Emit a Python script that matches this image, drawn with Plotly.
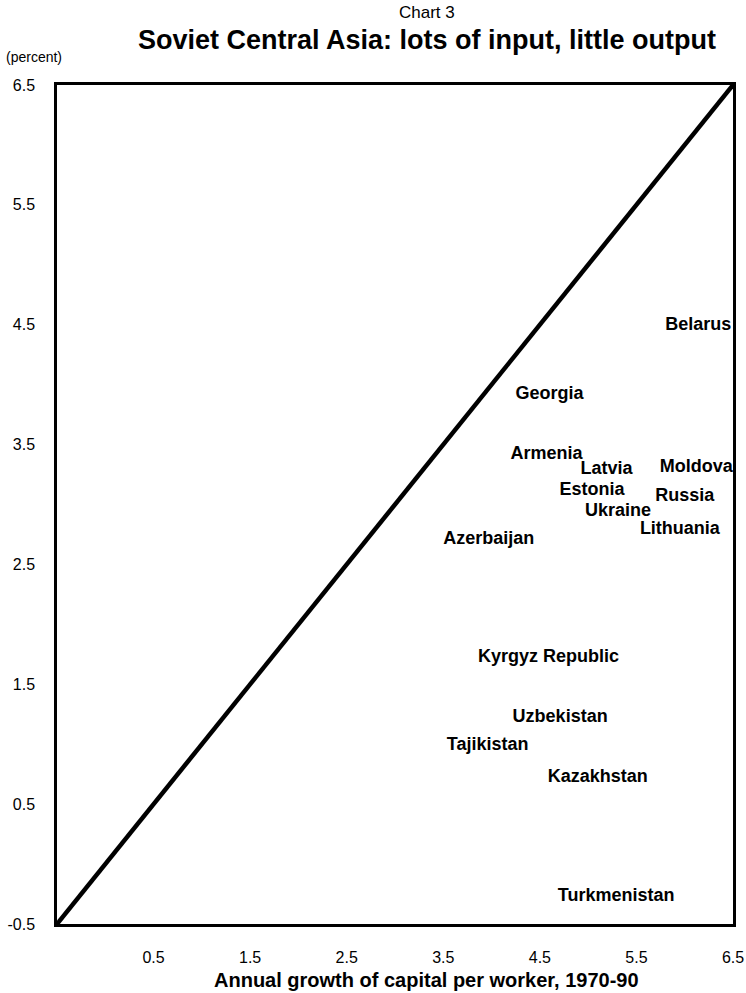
import plotly.graph_objects as go

# growth of capital per worker (x) vs growth of output per worker (y), 1970-90
countries = ["Belarus", "Georgia", "Armenia", "Latvia", "Moldova", "Estonia", "Russia",
             "Ukraine", "Lithuania", "Azerbaijan", "Kyrgyz Republic", "Uzbekistan",
             "Tajikistan", "Kazakhstan", "Turkmenistan"]
capital = [6.14, 4.60, 4.57, 5.19, 6.12, 5.04, 6.00, 5.31, 5.95, 3.97, 4.59, 4.71, 3.96, 5.10, 5.29]
output = [4.49, 3.92, 3.42, 3.29, 3.31, 3.12, 3.07, 2.94, 2.79, 2.71, 1.72, 1.22, 0.99, 0.72, -0.27]

diag = [-0.5, 6.5]
ticks = [-0.5, 0.5, 1.5, 2.5, 3.5, 4.5, 5.5, 6.5]

fnt = "Liberation Sans, Arial, sans-serif"

fig = go.Figure()
fig.add_trace(go.Scatter(x=diag, y=diag, mode="lines",
                         line=dict(color="black", width=4.5), hoverinfo="skip"))
fig.add_trace(go.Scatter(x=capital, y=output, mode="text", text=countries,
                         textposition="middle center",
                         textfont=dict(family=fnt, size=18, color="black", weight="bold")))

fig.update_layout(
    width=746, height=993,
    margin=dict(l=57, r=13, t=85, b=69, autoexpand=False),
    paper_bgcolor="white", plot_bgcolor="white",
    showlegend=False,
    font=dict(family=fnt, size=16, color="black"),
    annotations=[
        dict(text="Chart 3", xref="paper", yref="paper", x=0.547, y=1, yshift=73,
             yanchor="middle", showarrow=False, font=dict(size=17)),
        dict(text="<b>Soviet Central Asia: lots of input, little output</b>",
             xref="paper", yref="paper", x=0.547, y=1, yshift=45, yanchor="middle",
             showarrow=False, font=dict(size=27)),
        dict(text="(percent)", xref="paper", yref="paper", x=0, xshift=-53, xanchor="left",
             y=1, yshift=28, yanchor="middle", showarrow=False, font=dict(size=14)),
        dict(text="<b>Annual growth of capital per worker, 1970-90</b>",
             xref="paper", yref="paper", x=0.547, y=0, yshift=-56, yanchor="middle",
             showarrow=False, font=dict(size=20)),
    ],
)

fig.update_xaxes(range=[-0.5, 6.5], tickvals=ticks[1:], ticktext=[str(t) for t in ticks[1:]],
                 showgrid=False, zeroline=False, showline=True, mirror=True,
                 linecolor="black", linewidth=2.5, ticklabelstandoff=17, automargin=False)
fig.update_yaxes(range=[-0.5, 6.5], tickvals=ticks, ticktext=[str(t) for t in ticks],
                 showgrid=False, zeroline=False, showline=True, mirror=True,
                 linecolor="black", linewidth=2.5, ticklabelstandoff=16, automargin=False)

fig.write_html("out.html", config={"displayModeBar": False},
               post_script="document.body.style.margin='0';")
